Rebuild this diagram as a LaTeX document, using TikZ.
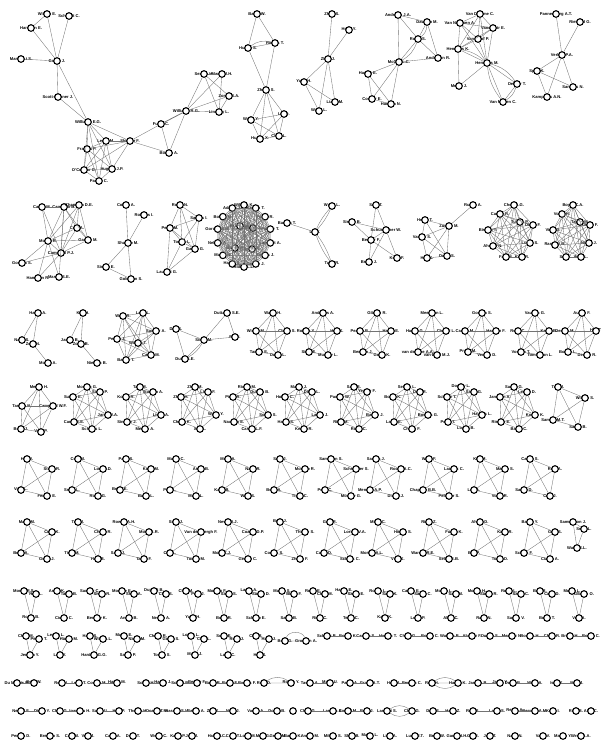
\documentclass[tikz,border=0pt]{standalone}
\usepackage{fontspec}
\setmainfont{Liberation Sans}
\tikzset{
  au/.style={circle,draw,line width=1.1pt,fill=white,minimum size=6.6pt,inner sep=0pt},
  nm/.style={font=\fontsize{4.1}{5}\selectfont\bfseries,inner sep=0pt},
  ed/.style={draw=black!55,line width=0.35pt},
}
% author = name text under a ring
\newcommand{\auth}[3]{\node[nm] at (#2) {#3}; \node[au] (#1) at (#2) {};}
% every pair of a list
\newcommand{\clq}[1]{\foreach \a [count=\i] in {#1} {\foreach \b [count=\j] in {#1} {\ifnum\i<\j \draw[ed] (\a) -- (\b);\fi}}}
\begin{document}
\begin{tikzpicture}[x=1pt,y=-1pt]
\useasboundingbox (0,0) rectangle (601,740);

% row 1
\auth{a1}{47,14}{Wilson E.}
\auth{a2}{69,16}{Schmidt C.}
\auth{a3}{31,28}{Harrison E.}
\auth{a4}{21,59}{Martin Lt S.}
\auth{a5}{57,61}{Carter J.}
\auth{a6}{58,97}{Scott-Gunner J.}
\auth{a7}{88,122}{Williams E.G.}
\auth{a8}{106,141}{Lewis M.}
\auth{a9}{130,141}{Skinner F.}
\auth{a10}{87,149}{Francis P.}
\auth{a11}{84,170}{O'Connor C.}
\auth{a12}{112,169}{Hughes J.P.}
\auth{a13}{99,181}{Parker C.}
\auth{a14}{161,124}{Fuller C.}
\auth{a15}{169,153}{Bowen A.}
\auth{a16}{186,111}{Williams R.G.}
\auth{a17}{204,74}{Sexton H.}
\auth{a18}{222,74}{Marsh J.H.}
\auth{a19}{229,96}{Zorab R.A.}
\auth{a20}{219,112}{Lindsay L.}
\foreach \u/\v in {a1/a3,a1/a5,a3/a5,a2/a5,a4/a5,a5/a6,a5/a7,a6/a7,a9/a7,a9/a8,a9/a10,a9/a11,a9/a12,a9/a14,a9/a15,a14/a15,a15/a16,a16/a17,a16/a18,a16/a19,a16/a20,a17/a18,a17/a19,a18/a20,a19/a20,a17/a20}
  \draw[ed] (\u) -- (\v);
\clq{a7,a8,a10,a11,a12,a13}
\draw[ed,line width=0.8pt] (a14) -- (a16);

\auth{b1}{257,14}{Baker W.}
\auth{b2}{248,48}{Huang S.}
\auth{b3}{275,43}{Ramos T.}
\auth{b4}{266,90}{Zhang S.}
\auth{b5}{251,120}{Wang Y.}
\auth{b6}{284,114}{Liu Q.}
\auth{b7}{260,139}{Huang X.}
\auth{b8}{279,136}{Chen L.}
\foreach \u/\v in {b1/b2,b1/b3,b2/b4,b3/b4,b2/b3}
  \draw[ed] (\u) -- (\v);
\draw[ed] (b2) to[bend left=25] (b3);
\clq{b4,b5,b6,b7,b8}

\auth{c1}{332,14}{Zhou S.}
\auth{c2}{349,30}{Heng Y.}
\auth{c3}{328,59}{Zhao J.}
\auth{c4}{304,82}{Yang H.}
\auth{c5}{319,111}{Wang L.}
\auth{c6}{335,102}{Liang M.}
\foreach \u/\v in {c1/c3,c2/c3,c3/c4,c3/c5,c3/c6,c4/c5,c4/c6}
  \draw[ed] (\u) -- (\v);

\auth{d1}{398,15}{Andrews J.A.}
\auth{d2}{427,22}{Dawson M.}
\auth{d3}{418,39}{Rossi S.}
\auth{d4}{399,62}{McCall L.C.}
\auth{d5}{368,74}{Harper E.}
\auth{d6}{438,58}{Anderson R.}
\auth{d7}{372,99}{Cooper E.}
\auth{d8}{391,104}{Hansen N.}
\foreach \u/\v in {d1/d2,d1/d3,d1/d4,d2/d6,d3/d6,d4/d6,d4/d5,d4/d7,d4/d8,d5/d7,d5/d8,d7/d8,d2/d3,d3/d4}
  \draw[ed] (\u) -- (\v);
\draw[ed] (d2) to[bend left=25] (d3);
\draw[ed] (d3) to[bend left=20] (d4);

\auth{e1}{480,14}{Van Damme C.}
\auth{e2}{460,23}{Van Nieuwen A.}
\auth{e3}{493,28}{Vanderstr E.}
\auth{e4}{478,39}{Van Hoof P.}
\auth{e5}{458,49}{Hendriks K.}
\auth{e6}{487,63}{Hermans M.}
\auth{e7}{459,86}{Meijer J.}
\auth{e8}{517,84}{Dekker T.}
\auth{e9}{503,102}{Van Mieren C.}
\clq{e1,e2,e3,e4,e5,e6}
\foreach \u/\v in {e5/e7,e6/e7,e6/e8,e6/e9,e8/e9}
  \draw[ed] (\u) -- (\v);
\draw[ed] (e5) to[bend left=15] (e6);
\draw[ed] (e6) to[bend left=20] (e8);
\draw[ed] (e6) to[bend right=15] (e9);
\draw[ed] (e8) to[bend left=20] (e9);

\auth{f1}{556,14}{Pannenborg A.T.}
\auth{f2}{580,22}{Rietveld G.}
\auth{f3}{562,55}{Verhey P.A.}
\auth{f4}{537,71}{Spelt K.}
\auth{f5}{573,87}{Sanders N.}
\auth{f6}{547,97}{Kamphuis A.N.}
\foreach \u/\v in {f1/f3,f2/f3,f3/f4,f3/f5,f3/f6,f4/f5,f4/f6}
  \draw[ed] (\u) -- (\v);

% row 2
\auth{g1}{42,207}{Carter M.}
\auth{g2}{64,207}{Cameron B.}
\auth{g3}{79,205}{Chapman D.E.}
\auth{g4}{77,228}{Cole A.}
\auth{g5}{88,240}{Garner M.}
\auth{g6}{48,241}{Morris R.}
\auth{g7}{61,253}{Campbell P.J.}
\auth{g8}{22,263}{Gordon S.}
\auth{g9}{38,278}{Hamilton R.}
\auth{g10}{59,277}{Mason S.E.}
\clq{g2,g3,g4,g5,g6,g7}
\foreach \u/\v in {g1/g2,g1/g6,g1/g7,g6/g8,g6/g9,g7/g8,g7/g9,g6/g10,g2/g10}
  \draw[ed] (\u) -- (\v);

\auth{h1}{126,205}{Cohen A.}
\auth{h2}{144,215}{Roberts I.}
\auth{h3}{128,243}{Shapiro M.}
\auth{h4}{106,267}{Simon E.}
\auth{h5}{131,279}{Goldman S.}
\foreach \u/\v in {h1/h3,h2/h3,h3/h4,h3/h5,h4/h5}
  \draw[ed] (\u) -- (\v);

\auth{i1}{180,205}{Rossi N.}
\auth{i2}{199,218}{Santos I.}
\auth{i3}{170,228}{Perez M.}
\auth{i4}{182,242}{Torres L.}
\auth{i5}{195,249}{Garcia G.}
\auth{i6}{167,272}{Laurent G.}
\clq{i1,i2,i3,i4,i5}
\foreach \u/\v in {i3/i6,i4/i6,i5/i6}
  \draw[ed] (\u) -- (\v);

\foreach \k/\l in {1/Adams J.,2/Bolton M.,3/Gordon S.M.,4/Nelson A.,5/Mayer N.,6/Hayes S.,7/Ridley L.L.,8/Decker J.,9/Rogers J.,10/Lambert A.,11/Palmer T.,12/Porter R.,13/Kaplan T.,14/Wilkins K.}
  {\auth{j\k}{{244+27*cos(90+\k*360/14)},{236-31*sin(90+\k*360/14)}}{\l}}
\auth{j15}{240,226}{Kramer M.}
\auth{j16}{253,228}{Sharp J.}
\auth{j17}{235,248}{Brown P.}
\auth{j18}{252,249}{Smith R.}
\clq{j1,j2,j3,j4,j5,j6,j7,j8,j9,j10,j11,j12,j13,j14,j15,j16,j17,j18}

\auth{k1}{287,223}{Barnes T.}
\auth{k2}{315,232}{Lin Y.}
\auth{k3}{332,206}{Wong L.}
\auth{k4}{332,264}{Tang R.}
\draw[ed] (k1) -- (k2);
\draw[ed] (k2) to[bend left=8] (k3) (k2) to[bend right=8] (k3);
\draw[ed] (k2) to[bend left=8] (k4) (k2) to[bend right=8] (k4);

\auth{l1}{376,205}{Sato T.}
\auth{l2}{352,222}{Singer B.}
\auth{l3}{386,230}{Schumacher W.}
\auth{l4}{371,240}{Becker F.}
\auth{l5}{369,262}{Braun J.}
\auth{l6}{397,258}{Koch F.}
\foreach \u/\v in {l1/l3,l1/l4,l2/l3,l2/l4,l3/l4,l3/l5,l3/l6,l4/l5,l4/l6}
  \draw[ed] (\u) -- (\v);

\auth{m1}{425,220}{Heller T.}
\auth{m2}{449,226}{Zucker M.}
\auth{m3}{473,205}{Russo A.}
\auth{m4}{422,237}{Vargas S.}
\auth{m5}{427,258}{Hall K.}
\auth{m6}{447,256}{Davis S.}
\foreach \u/\v in {m1/m2,m2/m3,m1/m4,m1/m6,m2/m4,m2/m5,m2/m6,m4/m5,m4/m6,m5/m6}
  \draw[ed] (\u) -- (\v);

\auth{n1}{514,205}{Chou A.G.}
\auth{n2}{500,214}{Carver R.}
\auth{n3}{520,222}{Tucker P.}
\auth{n4}{533,225}{Dixon F.}
\auth{n5}{488,230}{Bishop T.}
\auth{n6}{530,243}{Lucas S.}
\auth{n7}{493,246}{Ahmed N.}
\auth{n8}{506,257}{Farr M.}
\auth{n9}{522,257}{Kohl R.}
\clq{n1,n2,n3,n4,n5,n6,n7,n8,n9}

\auth{o1}{573,205}{Boyer C.A.}
\auth{o2}{562,214}{Vogel H.}
\auth{o3}{580,222}{Taylor M.}
\auth{o4}{590,225}{Geller F.}
\auth{o5}{553,230}{Vidal D.}
\auth{o6}{589,243}{Nixon J.}
\auth{o7}{555,245}{Ramsey B.}
\auth{o8}{566,257}{Sell K.}
\auth{o9}{581,257}{Walk L.}
\clq{o1,o2,o3,o4,o5,o6,o7,o8,o9}

% row 3
\auth{p1}{38,313}{Harris A.}
\auth{p2}{22,340}{Nash S.}
\auth{p3}{33,344}{Zorn N.}
\auth{p4}{48,363}{Moore A.}
\draw[ed] (p1) -- (p2) (p1) -- (p3) (p3) -- (p4);
\auth{q1}{83,313}{Kim H.}
\auth{q2}{70,340}{James B.}
\auth{q3}{81,344}{Zobel B.}
\auth{q4}{97,363}{Nielsen B.}
\draw[ed] (q1) -- (q2) (q1) -- (q3) (q3) -- (q4);

\auth{r1}{123,316}{Ward R.}
\auth{r2}{143,313}{Lane L.}
\auth{r3}{156,331}{Sawyer A.}
\auth{r4}{117,339}{Peters J.}
\auth{r5}{138,343}{Wilson T.}
\auth{r6}{151,355}{Casey M.}
\auth{r7}{126,360}{Baxter T.}
\clq{r1,r2,r3,r4,r5,r6,r7}

\auth{w1}{176,329}{Das S.}
\auth{w2}{227,313}{Duttaroy S.E.}
\auth{w3}{204,340}{Singh M.}
\auth{w4}{235,337}{Rao I.}
\auth{w5}{185,359}{Dutta S.E.}
\foreach \u/\v in {w1/w3,w1/w5,w2/w3,w2/w4,w3/w4,w3/w5}
  \draw[ed] (\u) -- (\v);
\draw[ed] (w3) to[bend left=15] (w5);

\foreach \cx/\la/\lb/\lc/\ld/\le [count=\k] in {273/Walsh H./Winter M./Chase S./Tanner E./Doyle L.,323/Andrews A./Rollins Y./Holt K./Sims E./Murphy L.,377/Gibson R./Pearce B./Hardy E./Benson J./Geller K.,432/Meerman L./Hagen G./Chapel L./van der Zee A.A./van Eerd M.J.,482/Gordon S./Carver M./Hanson F./Pryce M./Vernon D.,535/Vaughn G./Rusk C./Keller B./Vossen T./Tomlinson L.,582/Austin F./Dennis M./Hay T./Boone L./Decker R.}
{
  \auth{tA\k}{\cx,313}{\la}
  \auth{tB\k}{\cx-17,331}{\lb}
  \auth{tC\k}{\cx+14,331}{\lc}
  \auth{tD\k}{\cx-14,352}{\ld}
  \auth{tE\k}{\cx+5,355}{\le}
  \clq{tA\k,tB\k,tC\k,tD\k,tE\k}
}

% row 4
\auth{v1}{39,387}{Menon H.}
\auth{v2}{22,406}{Tanaka N.}
\auth{v3}{53,406}{Campbell W.F.}
\auth{v4}{21,429}{Bose J.}
\auth{v5}{41,432}{Vogt P.}
\clq{v1,v2,v3,v4,v5}

\foreach \cx/\la/\lb/\lc/\ld/\le/\lf [count=\k] in {90/Morgan G./Salter P./Sutton E./Jarvis J.A./Carey E.E./Scholes L.,143/Tate M./Stanton A./Kowal R./Lister A./Sinclair J./Merton A.,198/Zhao M./Liang F./Zhou H./Wang Y./Cheng K./Xue L.,250/Rivera M./Dubois B./Pinto R./Sousa S./Navarro E./Castro L.F.,302/Marsh J./Dillon L./Hobbs C./Larkin J./Hardy S./Keane R.,357/Sato B./Yeager F./Pawlak W./Barker J./Riley M./Rowe C.,410/Sellers L./Dale R./Booth K./Bowers G./Lamb E./Chung F.,464/Dorsey L./Salas G./Schultz T./Haynes L./Pettit T./Logan B.,517/Saxon G./Lerner D./Janssen A./Koster K./Riemer E./Bauer C.}
{
  \auth{xA\k}{\cx-3,387}{\la}
  \auth{xB\k}{\cx+10,392}{\lb}
  \auth{xC\k}{\cx-17,397}{\lc}
  \auth{xD\k}{\cx+18,415}{\ld}
  \auth{xE\k}{\cx-16,422}{\le}
  \auth{xF\k}{\cx+2,429}{\lf}
  \clq{xA\k,xB\k,xC\k,xD\k,xE\k,xF\k}
}

\auth{y1}{558,387}{Tate J.}
\auth{y2}{585,398}{Wilson S.}
\auth{y3}{553,420}{Samuel M.T.}
\auth{y4}{578,427}{Sachs B.}
\clq{y1,y2,y3,y4}

% rows 5 and 6
\foreach \x/\la/\lb/\lc/\ld [count=\k] in {27/Hall J./Stone R./Vogt L./Fenner E.,78/Cole M./Lord J.D./Small L./Rossi G.,126/Page S./Kohn M./Berry E./Bates L.,176/Marsh C./Ansel B./Pike L./Moss L.,228/Mohr A./Nash R./Kane B./Wise S.,280/Sato J./Moreno R./Bose A./Tighe C.,331/Sampson S./Schreuder S./Peck C./Morrow G.,376/Santos J./Rocha A.C./Mendes A.P./Dias P.J.,429/Ward F./Lacroix C./Chapelle B.B./Pelletier S.,480/Kim M./Mason S./Lau A./Vogel R.,530/Castle S./Reid A./Saxby D./Cole J.}
{
  \auth{zA\k}{\x,459}{\la}
  \auth{zB\k}{\x+25,469}{\lb}
  \auth{zC\k}{\x-6,490}{\lc}
  \auth{zD\k}{\x+20,496}{\ld}
  \clq{zA\k,zB\k,zC\k,zD\k}
}
\foreach \x/\la/\lb/\lc/\ld [count=\k] in {27/Mann M./Cook K./Boyd A./Geels J.,78/Tate J./Chase R./Tims M./Hale B.,124/Rowan A.H./Moss B.R./Sage J./Tabor F.,176/Sims J./Van den Bergh F./Chu L./Tomas M.,228/Nevin D.J./Coates D.P./Mohr C.J./Gerber C.,280/Berg J./Thorne S./Combs S./Zheng F.,330/Gale R./Lorenz V.A./Cahill D./Schenk C.,378/Milne C./Hirsch S./Morton A.L./Villa K.,429/Rizzo Z./Fuchs K./Warren R.E./Selby R.B.,480/Ahern D./Kahn R./Bell P./Toner D.,530/Bailey Y./Getz S./Scholz F./Ciaran A.}
{
  \auth{zE\k}{\x,522}{\la}
  \auth{zF\k}{\x+25,532}{\lb}
  \auth{zG\k}{\x-6,553}{\lc}
  \auth{zH\k}{\x+20,559}{\ld}
  \clq{zE\k,zF\k,zG\k,zH\k}
}
\auth{y5}{573,522}{Samuelson J.}
\auth{y6}{584,529}{Serra L.}
\auth{y7}{577,548}{Watts E.L.}
\clq{y5,y6,y7}

% row 7
\foreach \x/\la/\lb/\lc [count=\k] in {24/Morris R.S./Hale L./Roper B.,57/Ansel K./Tabor B./Cicero C.,90/Sawyer C./Smart R./Bentley K.,122/Monroe E./Shaw A./Ansell B.,154/Dupont B./Choi S./Neville A.,186/Chin M./Park J./Yang H.,217/Moreau F./Sayer S./Bond R.,249/Lacey A./Sadler D./Schaap E.,282/Martin S./Blanc F./Salter B.,313/Rowe E./Chan M./Ricci C.,344/Hayes E./Saenz E./Teller C.,378/Rosen L./Saari K./Kaye K.,411/Cairns E./Sachs C./Lowe P.,444/Molina L./Sato M./Allan C.,477/Moody H./Sands R./Rahn N.,509/Rojas L./Sauer C./Sayles V.,540/Barr R./Cano D./Botha T.,572/Morse L./Gibbon O./Vela A.}
{
  \auth{uA\k}{\x,591}{\la}
  \auth{uB\k}{\x+12,594}{\lb}
  \auth{uC\k}{\x+7,618}{\lc}
  \draw[ed] (uA\k) -- (uC\k) (uB\k) -- (uC\k) (uA\k) -- (uB\k);
}

% row 8
\foreach \x/\la/\lb/\lc [count=\k] in {26/Chen M./Peters T./Jensen Y.,56/Leung L./Hanna M./Law Y.,90/Haas S./Wills A.L./Harding G.G.,124/Mayer E./Nagel M./Sasse P.,158/Chang R./Gould S./Torres S.,191/Lowry L./Choi L./Mayo J.,224/Scott E./Ross J./Luna C.,256/Cho R./Hahn J./Hsu S.}
{
  \auth{uD\k}{\x,636}{\la}
  \auth{uE\k}{\x+13,639}{\lb}
  \auth{uF\k}{\x+4,655}{\lc}
  \draw[ed] (uD\k) -- (uF\k) (uE\k) -- (uF\k) (uD\k) -- (uE\k);
}
\auth{lp1}{285,641}{Berg G.}
\auth{lp2}{306,641}{Grossen A.}
\draw[ed] (lp1) -- (lp2) (lp1) to[bend left=70] (lp2);

\foreach \xa/\xb/\la/\lb [count=\k] in {327/348/Schultz B./Bosch K.,366/388/Carson S./Hamlin T.,408/430/Chien G./Rocco C.,450/472/Watson B./Alvarez F.,490/512/Duarte S./Mendez N.,530/552/Rourke H./Chow R.,570/591/Bright H./Rocha C.}
{
  \auth{pr\k}{\xa,636}{\la}
  \auth{ps\k}{\xb,636}{\lb}
  \draw[ed] (pr\k) -- (ps\k);
}

% row 9
\foreach \xa/\xb/\la/\lb [count=\k] in {17/34/Du Marais R./Berg W.,62/79/Rollo L./Lee J.T.,97/117/Cowan M./Hayes M.,146/163/Schell H./Hagen J.,180/197/Schott P./Berger F.,213/230/Barra R./Rahm F.,310/330/Tasker A./Mayo U.,350/370/Paton A./Grass A.T.,394/412/Hale A./Pesson C.,478/500/Jansen B./Jager Y.,513/535/Doyle B./Winn A.,557/577/Ishii K./Mori J.}
{
  \auth{cA\k}{\xa,683}{\la}
  \auth{cB\k}{\xb,683}{\lb}
  \draw[ed] (cA\k) -- (cB\k);
}
\auth{cB13}{247,683}{Ramos F.}
\draw[ed] (cB6) -- (cB13);
\auth{cA14}{264,683}{Rojo D.}
\auth{cB14}{291,683}{Royce Y.}
\draw[ed] (cA14) -- (cB14) (cA14) to[bend left=35] (cB14);
\auth{cA15}{432,683}{Ruiz H.}
\auth{cB15}{458,683}{Hanks K.}
\draw[ed] (cA15) to[bend left=35] (cB15) (cA15) to[bend right=35] (cB15) (cA15) -- (cB15);

% row 10
\foreach \xa/\xb/\la/\lb [count=\k] in {21/42/Newell F./Dixon Y.,60/80/Chan G./Ioannou H.,100/119/Salas U./Hart P.,138/157/Thorpe H./Oostra T.M.,177/196/Hassan S.V./Rahim A.,213/233/Zhu Y./Ning J.,256/277/Vance A./Doran B.,308/333/Chen G./Lamers C.,348/367/Arnold M./Berk J.,433/453/Dahl F./Hahn Z.,473/497/Ruiz S./Lamb S.,515/535/Reyes A./Berman A.M.}
{
  \auth{cC\k}{\xa,711}{\la}
  \auth{cD\k}{\xb,711}{\lb}
  \draw[ed] (cC\k) -- (cD\k);
}
\auth{cC13}{387,711}{Lamont S.}
\auth{cD13}{412,711}{Chua G.}
\draw[ed] (cC13) to[bend left=35] (cD13) (cC13) to[bend right=35] (cD13);
\foreach \x/\l [count=\k] in {293/,553/Koch I.,576/Rios B.,591/Alba C.}
  {\auth{sh\k}{\x,711}{\l}}

% row 11
\foreach \x/\l [count=\k] in {21/Pereira D.,50/Bremen S.,72/Carr M.,88/Veld J.,113/Carlo A.,133/Dane T.,159/Weiss C.,178/Kallis P.,192/Jain J.,217/Hale M.C.,233/Cass T.,248/Lobo M.,263/Marr G.,278/Geiss M.,293/Banks K.,310/Annan M.,333/Mifune S.,352/Shah B.,370/Mayer L.,390/Lind A.,415/Lund J.T.,437/Bech W.,457/Garza H.H.,473/Gill R.,490/Jain T.,515/Nash N.,543/Vane V.,563/Marley Y.,581/Wren A.A.}
  {\auth{sg\k}{\x,736}{\l}}
\end{tikzpicture}
\end{document}
